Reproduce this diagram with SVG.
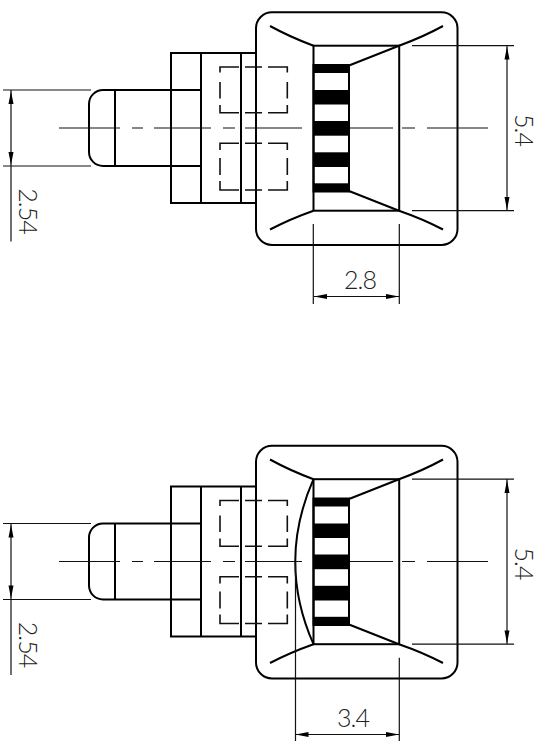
<svg xmlns="http://www.w3.org/2000/svg" width="542" height="742" viewBox="0 0 542 742">
<style>
.o{fill:none;stroke:#000;stroke-width:2}
.t{fill:none;stroke:#111;stroke-width:1.2}
.h{fill:none;stroke:#111;stroke-width:1.6}
.b{fill:#000;stroke:none}
.a{fill:#000;stroke:none}
text{font-family:"Lato","Open Sans","Liberation Sans",sans-serif;font-weight:300;font-size:25px;letter-spacing:-1px;fill:#222}
</style>
<defs>
<g id="view">
<rect class="o" x="256" y="12.3" width="201.5" height="232.7" rx="16" ry="16"/>
<rect class="o" x="313.500" y="45.700" width="85.700" height="165"/>
<rect class="o" x="313.500" y="65" width="35.500" height="126.500"/>
<path class="o" d="M349 65.500L399 45.700M349 191L399 210.700M313.500 45.700Q290 37 270 26M399 45.700Q423 37 443 26M313.500 210.700Q290 219 270 229.500M399 210.700Q423 219 443 229.500"/>
<rect class="b" x="313.500" y="65" width="35.500" height="8"/>
<rect class="b" x="313.500" y="90" width="35.500" height="14.500"/>
<rect class="b" x="313.500" y="121" width="35.500" height="14.700"/>
<rect class="b" x="313.500" y="152.300" width="35.500" height="14.700"/>
<rect class="b" x="313.500" y="183.300" width="35.500" height="8"/>
<path class="o" d="M115 90H103A14 14 0 0 0 89 104V152A14 14 0 0 0 103 166H115M115 90V166M115 90H201M115 166H201"/>
<path class="o" d="M256 53H171V203H256M201 53V203M241 53V203"/>
<path class="h" d="M239 67H220V72.500M220 82V98.500M220 105V112.700H239M245 67H262M268 67H287.300V72.500M287.300 82V98.500M287.300 105V112.700H268M262 112.700H245M239 143.300H220V150M220 158V175M220 181V190H239M245 143.300H262M268 143.300H287.300V150M287.300 158V175M287.300 181V190H268M262 190H245"/>
<path class="t" d="M59 128H120M132 128H143M154 128H211M223 128H235M245 128H302M350 128H393M402 128H415M427 128H488"/>
<path class="t" d="M3 90H91M3 166H91M11 90V166M11 166V241.500"/>
<path class="a" d="M11 91L13.500 104H8.500ZM11 165L13.500 152H8.500Z"/>
<path class="t" d="M412 45.700H514M412 210.700H514M507 46V211"/>
<path class="a" d="M507 46.500L509.500 59.500H504.500ZM507 210L509.500 197H504.500Z"/>
</g>
</defs>
<g id="view-top"><use href="#view"/>
<path class="t" d="M313.300 224V304M399.300 224V304M314 296.500H399"/>
<path class="a" d="M314 296.500L327 294V299ZM399 296.500L386 294V299Z"/>
<text x="360" y="288.500" text-anchor="middle">2.8</text>
<text transform="translate(19 211) rotate(90)" text-anchor="middle">2.54</text>
<text transform="translate(515 130) rotate(90)" text-anchor="middle">5.4</text>
</g>
<g id="view-bottom"><g transform="translate(0 433.500)"><use href="#view"/></g>
<path class="o" d="M313.500 479.200Q277 561.700 313.500 644.200"/>
<path class="t" d="M295.500 561.700V741M399.300 657.700V741M295.500 734.500H399"/>
<path class="a" d="M295.500 734.500L308.500 732V737ZM399 734.500L386 732V737Z"/>
<text x="353" y="727" text-anchor="middle">3.4</text>
<text transform="translate(19 644.500) rotate(90)" text-anchor="middle">2.54</text>
<text transform="translate(515 563.500) rotate(90)" text-anchor="middle">5.4</text>
</g>
</svg>
